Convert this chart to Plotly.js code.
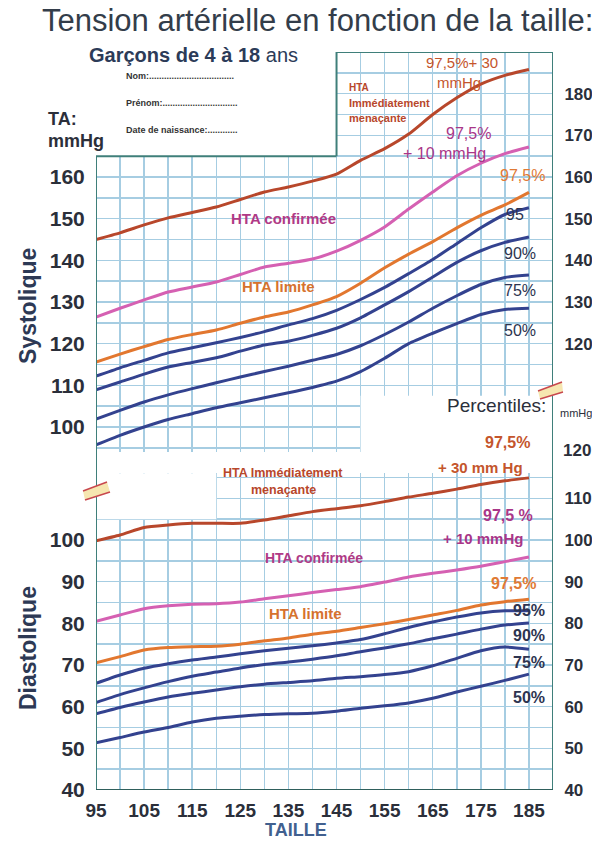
<!DOCTYPE html>
<html>
<head>
<meta charset="utf-8">
<script src="https://cdn.plot.ly/plotly-3.0.1.min.js"></script>
<style>
html,body{margin:0;padding:0;background:#fff;}
#chart{width:592px;height:844px;}
</style>
</head>
<body>
<div id="chart"></div>
<script>
// ---- Data ----
const heights = [95,100,105,110,115,120,125,130,135,140,145,150,155,160,165,170,175,180,185];

const sysP975_30 = [145,146.6,148.5,150.2,151.5,152.8,154.6,156.4,157.6,159,160.7,164,166.8,170.3,175,179,182.3,184.4,185.8];
const sysP975_10 = [126.4,128.5,130.5,132.4,133.6,134.8,136.6,138.4,139.3,140.3,142.2,144.8,148,152.3,156.4,160.3,163.3,165.6,167.2];
const sysP975    = [115.6,117.5,119.3,121,122.2,123.3,124.9,126.4,127.6,129.3,131.3,134.5,138.2,141.5,144.5,147.8,150.8,153.3,156.3];
const sysP95     = [112.2,114.2,116,117.8,119,120.2,121.5,122.9,124.5,126,128,130.6,133.5,136.8,140.2,144,147.8,151,152.6];
const sysP90     = [108.9,110.8,112.7,114.4,115.5,116.6,118.2,119.7,120.6,122,123.7,126.2,129.3,132.5,136,139.5,142.3,144.3,145.6];
const sysP75     = [101.9,104,106,107.7,109.2,110.6,112,113.3,114.6,116,117.4,119.5,122.2,125.2,128.5,131.5,134.2,135.9,136.5];
const sysP50     = [95.7,98,100,101.8,103.2,104.6,105.8,107,108.2,109.5,111,113.3,116.5,120,122.5,124.8,127,128.2,128.5];

const diaP975_30 = [99.8,101.2,103,103.6,104,104,104,104.8,105.8,106.8,107.5,108.2,109.2,110.3,111.2,112.2,113.3,114.2,114.9];
const diaP975_10 = [80.5,82,83.5,84.2,84.6,84.7,85.1,85.9,86.6,87.4,88.1,88.8,89.9,91.1,92,92.8,93.7,94.8,95.9];
const diaP975    = [70.5,72,73.6,74.2,74.4,74.5,75,75.8,76.5,77.4,78.1,79,79.9,80.9,82,83.1,84.4,85.2,85.8];
const diaP95     = [65.6,67.6,69.2,70.3,71.2,71.9,72.7,73.4,74,74.6,75.3,76.1,77.5,79,80.3,81.5,82.5,83,83];
const diaP90     = [61,62.9,64.5,66,67.3,68.3,69.3,70.1,70.7,71.4,72.2,73.2,74.1,75.1,76.3,77.4,78.6,79.6,80.1];
const diaP75     = [58.3,59.8,61.1,62.3,63.2,64,64.8,65.4,65.8,66.2,66.8,67.2,67.7,68.4,69.8,71.6,73.4,74.3,73.8];
const diaP50     = [51.3,52.6,53.9,55,56.3,57.2,57.7,58.1,58.3,58.4,58.9,59.6,60.2,60.9,62,63.5,64.9,66.3,67.8];

// tick labels
const xTickLabels   = [95,105,115,125,135,145,155,165,175,185];
const sysLeftLabels = [100,110,120,130,140,150,160];
const sysRightLabels= [120,130,140,150,160,170,180];
const diaLeftLabels = [40,50,60,70,80,90,100];
const diaRightLabels= [40,50,60,70,80,90,100,110,120];

// ---- helpers ----
const W = 592, H = 844;
const px = x => x / W;
const py = y => 1 - y / H;
function range5(a, b){ const r=[]; for(let v=a; v<=b; v+=5) r.push(v); return r; }
function labelsFor(vals, shown){ return vals.map(v => shown.includes(v) ? String(v) : ''); }

const FONT = 'Liberation Sans, Arial, sans-serif';
const cRed='#b8472b', cPink='#d560b2', cOrange='#e2772f', cBlue='#33428f';
const gridC = '#a6cde2', border = '#3f7f7a';

function tr(y, color, yaxis){
  return {x: heights, y: y, type:'scatter', mode:'lines', yaxis: yaxis, xaxis:'x',
          line:{color: color, width: 3, shape:'spline', smoothing:0.6},
          hoverinfo:'skip', showlegend:false};
}
// invisible carrier traces so the right-hand axes get drawn
function carrier(y, yaxis){
  return {x: heights, y: y, type:'scatter', mode:'lines', yaxis: yaxis, xaxis:'x',
          line:{width:0, color:'rgba(0,0,0,0)'}, opacity:0, hoverinfo:'skip', showlegend:false};
}
const data = [
  tr(sysP975_30,cRed,'y'), tr(sysP975_10,cPink,'y'), tr(sysP975,cOrange,'y'),
  tr(sysP95,cBlue,'y'), tr(sysP90,cBlue,'y'), tr(sysP75,cBlue,'y'), tr(sysP50,cBlue,'y'),
  tr(diaP975_30,cRed,'y2'), tr(diaP975_10,cPink,'y2'), tr(diaP975,cOrange,'y2'),
  tr(diaP95,cBlue,'y2'), tr(diaP90,cBlue,'y2'), tr(diaP75,cBlue,'y2'), tr(diaP50,cBlue,'y2'),
  carrier(sysP50,'y3'), carrier(diaP50,'y4')
];

const xGrid = range5(95,190), sysGrid = range5(95,190), diaGrid = range5(40,115);
const tickFontL = {family: FONT, size: 21, color:'#2b2f3a', weight:'bold'};
const tickFontR = {family: FONT, size: 17, color:'#2b2f3a', weight:'bold'};

const layout = {
  width: W, height: H,
  margin:{l:0,r:0,t:0,b:0},
  paper_bgcolor:'#ffffff', plot_bgcolor:'rgba(0,0,0,0)',
  showlegend:false,
  xaxis:{domain:[px(96), px(553)], range:[95,190], anchor:'y2',
         tickmode:'array', tickvals:xGrid, ticktext:labelsFor(xGrid, xTickLabels),
         showgrid:true, gridcolor:gridC, gridwidth:1.5, zeroline:false, showline:false,
         ticks:'outside', ticklen:3, tickcolor:'rgba(0,0,0,0)', automargin:false,
         tickfont:{family: FONT, size: 19, color:'#2b2f3a', weight:'bold'}, fixedrange:true},
  yaxis:{domain:[py(452), py(52)], range:[94,190], anchor:'x',
         tickmode:'array', tickvals:sysGrid, ticktext:labelsFor(sysGrid, sysLeftLabels),
         showgrid:true, gridcolor:gridC, gridwidth:1.5, zeroline:false, showline:false,
         ticks:'outside', ticklen:6, tickcolor:'rgba(0,0,0,0)', automargin:false,
         tickfont:tickFontL, fixedrange:true},
  yaxis2:{domain:[py(790), py(473.3)], range:[40,116], anchor:'x',
         tickmode:'array', tickvals:diaGrid, ticktext:labelsFor(diaGrid, diaLeftLabels),
         showgrid:true, gridcolor:gridC, gridwidth:1.5, zeroline:false, showline:false,
         ticks:'outside', ticklen:6, tickcolor:'rgba(0,0,0,0)', automargin:false,
         tickfont:tickFontL, fixedrange:true},
  yaxis3:{overlaying:'y', side:'right', anchor:'x', range:[94,190],
         tickmode:'array', tickvals:sysRightLabels, showgrid:false, zeroline:false, showline:false,
         ticks:'outside', ticklen:7, tickcolor:'rgba(0,0,0,0)', automargin:false,
         tickfont:tickFontR, fixedrange:true},
  yaxis4:{overlaying:'y2', side:'right', anchor:'x', range:[40,116],
         tickmode:'array', tickvals:diaRightLabels.filter(v => v <= 116), showgrid:false, zeroline:false, showline:false,
         ticks:'outside', ticklen:7, tickcolor:'rgba(0,0,0,0)', automargin:false,
         tickfont:tickFontR, fixedrange:true},
  shapes:[],
  annotations:[]
};

// masks (irregular outline of the printed grid)
const mask = (x0,x1,y0,y1,yref) => ({type:'rect', xref:'x', yref:yref, x0:x0, x1:x1, y0:y0, y1:y1,
  fillcolor:'#ffffff', line:{width:0}, layer:'above'});
layout.shapes.push(mask(95,145,165,191,'y'));
layout.shapes.push(mask(150,190,94,107.5,'y'));
layout.shapes.push(mask(95,120,105,116.5,'y2'));

// borders
const ln = (x0,y0,x1,y1,xref,yref,color,w) => ({type:'line', xref:xref, yref:yref, x0:x0,y0:y0,x1:x1,y1:y1,
  line:{color:color||border, width:w||2}, layer:'above'});
layout.shapes.push(ln(95,py(790),95,py(157),'x','paper'));
layout.shapes.push(ln(190,py(790),190,py(52),'x','paper'));
layout.shapes.push(ln(95,165,145,165,'x','y'));
layout.shapes.push(ln(145,165,145,190,'x','y'));
layout.shapes.push(ln(145,190,190,190,'x','y'));
layout.shapes.push(ln(95,40,190,40,'x','y2','#2f5f5c',2));

// break marks
function brk(pts){
  const [a,b,c,d] = pts;
  layout.shapes.push({type:'path', xref:'paper', yref:'paper',
    path:`M${px(a[0])},${py(a[1])} L${px(b[0])},${py(b[1])} L${px(d[0])},${py(d[1])} L${px(c[0])},${py(c[1])} Z`,
    fillcolor:'#f6e6b0', line:{width:0}, layer:'above'});
  layout.shapes.push({type:'line', xref:'paper', yref:'paper', x0:px(a[0]),y0:py(a[1]),x1:px(b[0]),y1:py(b[1]), line:{color:'#c8474d',width:1.5}, layer:'above'});
  layout.shapes.push({type:'line', xref:'paper', yref:'paper', x0:px(c[0]),y0:py(c[1]),x1:px(d[0]),y1:py(d[1]), line:{color:'#c8474d',width:1.5}, layer:'above'});
}
brk([[83,491],[107,482],[85,500],[110,492]]);
brk([[538,391],[562,382],[540,399],[563,392]]);

// text
function ann(text, x, y, opt){
  layout.annotations.push(Object.assign({text:text, xref:'paper', yref:'paper', x:px(x), y:py(y),
    xanchor:'center', yanchor:'middle', showarrow:false,
    font:{family:FONT, size:14, color:'#2b2f3a'}}, opt||{}));
}
const f = (size, color) => ({family:FONT, size:size, color:color});

ann('Tension artérielle en fonction de la taille:', 40, 21, {xanchor:'left', font:f(31,'#333d4a')});
ann('<b>Garçons de 4 à 18</b> ans', 87, 55, {xanchor:'left', font:f(20,'#2c3b58')});
ann('<b>Nom:..................................</b>', 124, 76, {xanchor:'left', font:f(9,'#333')});
ann('<b>Prénom:..............................</b>', 124, 103, {xanchor:'left', font:f(9,'#333')});
ann('<b>Date de naissance:............</b>', 124, 130, {xanchor:'left', font:f(9,'#333')});
ann('<b>TA:</b>', 46, 119, {xanchor:'left', font:f(18,'#2b2f3a')});
ann('<b>mmHg</b>', 46, 141, {xanchor:'left', font:f(18,'#2b2f3a')});
ann('<b>Systolique</b>', 28, 306, {textangle:-90, font:f(23,'#2d3955')});
ann('<b>Diastolique</b>', 28, 648, {textangle:-90, font:f(23,'#2d3955')});
ann('<b>TAILLE</b>', 296, 830, {font:f(18,'#41608f')});
ann('Percentiles:', 548, 405, {xanchor:'right', font:f(19,'#2b2f3a')});
ann('mmHg', 558, 413, {xanchor:'left', font:f(11,'#2b2f3a')});
ann('<b>120</b>', 561, 450, {xanchor:'left', font:tickFontR});

// systolic curve labels
const cRedT='#c4552c', cPinkT='#a93688', cOrT='#e07a35', cBlT='#2d3450';
ann('97,5%+ 30', 462, 62, {font:f(15,cRedT)});
ann('mmHg', 459, 83, {font:f(15,cRedT)});
ann('<b>HTA</b>', 347, 88, {xanchor:'left', font:f(10,cRed)});
ann('<b>Immédiatement</b>', 347, 103, {xanchor:'left', font:f(11,cRed)});
ann('<b>menaçante</b>', 347, 118, {xanchor:'left', font:f(11,cRed)});
ann('97,5%', 468, 133, {font:f(16,cPinkT)});
ann('+ 10 mmHg', 444, 153, {font:f(16,cPinkT)});
ann('97,5%', 522, 175, {font:f(16,cOrT)});
ann('95', 515, 215, {font:f(16,cBlT)});
ann('90%', 520, 253, {font:f(16,cBlT)});
ann('75%', 520, 290, {font:f(16,cBlT)});
ann('50%', 520, 330, {font:f(16,cBlT)});
ann('<b>HTA confirmée</b>', 283, 218, {font:f(15,'#b03a86')});
ann('<b>HTA limite</b>', 278, 287, {font:f(15,'#d6722e')});

// diastolic curve labels
ann('<b>97,5%</b>', 507, 443, {font:f(16,cRedT)});
ann('<b>+ 30 mm Hg</b>', 480, 467, {font:f(15,cRedT)});
ann('<b>HTA Immédiatement</b>', 283, 473, {font:f(12.5,cRed)});
ann('<b>menaçante</b>', 283, 490, {font:f(12.5,cRed)});
ann('<b>97,5 %</b>', 508, 515, {font:f(16,cPinkT)});
ann('<b>+ 10 mmHg</b>', 483, 538, {font:f(15,cPinkT)});
ann('<b>HTA confirmée</b>', 314, 558, {font:f(14,'#b03a86')});
ann('<b>97,5%</b>', 513, 583, {font:f(16,cOrT)});
ann('<b>HTA limite</b>', 305, 613, {font:f(15,'#d6722e')});
ann('<b>95%</b>', 529, 610, {font:f(16,cBlT)});
ann('<b>90%</b>', 529, 635, {font:f(16,cBlT)});
ann('<b>75%</b>', 529, 662, {font:f(16,cBlT)});
ann('<b>50%</b>', 529, 697, {font:f(16,cBlT)});

Plotly.newPlot('chart', data, layout, {staticPlot:true, displayModeBar:false});
</script>
</body>
</html>
